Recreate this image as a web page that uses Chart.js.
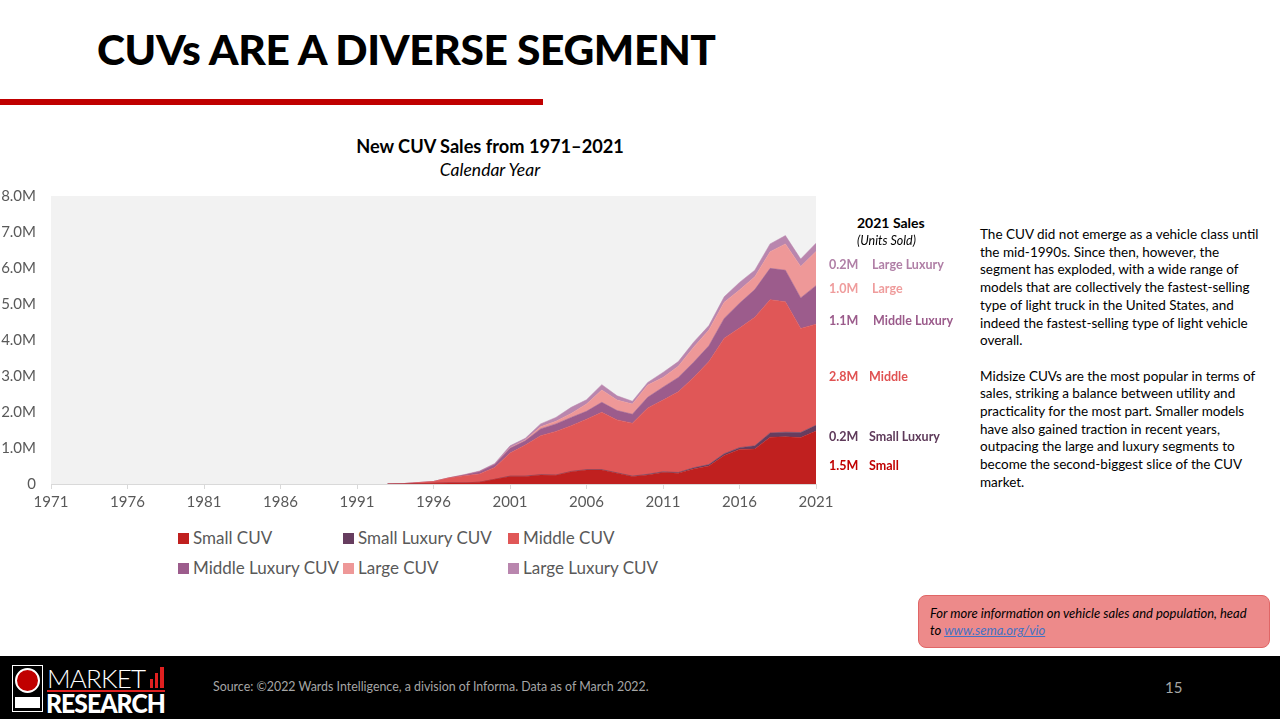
<!DOCTYPE html>
<html>
<head>
<meta charset="utf-8">
<script src="https://cdn.jsdelivr.net/npm/chart.js@4"></script>
<style>
  body { margin: 0; width: 1280px; height: 719px; position: relative; overflow: hidden; background: #fff; font-family: Lato, "Open Sans", sans-serif; }
  .abs { position: absolute; white-space: nowrap; }
  #title { left: 97px; top: 23px; font-size: 42.5px; font-weight: 900; color: #000; letter-spacing: -0.4px; }
  #redline { left: 0; top: 99px; width: 543px; height: 6px; background: #c00000; }
  #ctitle { left: 290px; width: 400px; top: 135px; text-align: center; font-size: 18.2px; font-weight: bold; color: #000; }
  #csub { left: 290px; width: 400px; top: 159px; text-align: center; font-size: 17.5px; font-style: italic; color: #000; }
  #chartWrap { position: absolute; left: 0; top: 172px; }
  .leg { position: absolute; font-size: 17px; color: #595959; white-space: nowrap; }
  .leg span.box { position: absolute; left: 0; top: 6px; width: 11px; height: 11px; }
  .leg span.txt { position: absolute; left: 15px; top: 0; }
  #salesHead { left: 857px; top: 214px; font-size: 14px; font-weight: bold; color: #000; }
  #salesSub { left: 857px; top: 233px; font-size: 12.5px; font-style: italic; color: #000; }
  .sl { position: absolute; font-size: 12.5px; font-weight: bold; white-space: nowrap; }
  #para { left: 980px; top: 226px; font-size: 13.5px; line-height: 17.7px; color: #000; }
  #infobox { left: 918px; top: 595px; width: 352px; height: 53px; background: #ed8a8a; border: 1px solid #e06666; border-radius: 8px; box-sizing: border-box; }
  #infotext { left: 930px; top: 605px; font-size: 13px; line-height: 17px; font-style: italic; color: #000; }
  #infotext a { color: #4472c4; text-decoration: underline; }
  #footer { left: 0; top: 656px; width: 1280px; height: 63px; background: #000; }
  #source { left: 213px; top: 679px; font-size: 12.4px; color: #a6a6a6; }
  #page { left: 1165px; top: 678px; font-size: 15px; color: #a6a6a6; }
</style>
</head>
<body>
<div id="title" class="abs">CUVs ARE A DIVERSE SEGMENT</div>
<div id="redline" class="abs"></div>
<div id="ctitle" class="abs">New CUV Sales from 1971–2021</div>
<div id="csub" class="abs">Calendar Year</div>

<div id="chartWrap"><canvas id="cuvChart" width="840" height="348"></canvas></div>
<div id="legend"></div>

<div id="salesHead" class="abs">2021 Sales</div>
<div id="salesSub" class="abs">(Units Sold)</div>
<div id="sales"></div>

<div id="para" class="abs">The CUV did not emerge as a vehicle class until<br>the mid-1990s. Since then, however, the<br>segment has exploded, with a wide range of<br>models that are collectively the fastest-selling<br>type of light truck in the United States, and<br>indeed the fastest-selling type of light vehicle<br>overall.<br><br>Midsize CUVs are the most popular in terms of<br>sales, striking a balance between utility and<br>practicality for the most part. Smaller models<br>have also gained traction in recent years,<br>outpacing the large and luxury segments to<br>become the second-biggest slice of the CUV<br>market.</div>

<div id="infobox" class="abs"></div>
<div id="infotext" class="abs">For more information on vehicle sales and population, head<br>to <a href="#">www.sema.org/vio</a></div>

<div id="footer" class="abs"></div>
<div class="abs" style="left:12px;top:665px;width:31px;height:47px;border:1px solid #fff;box-sizing:border-box;background:#000;"></div>
<div class="abs" style="left:15px;top:668px;width:25px;height:25px;border-radius:50%;background:#c00000;border:2px solid #fff;box-sizing:border-box;"></div>
<div class="abs" style="left:15px;top:697px;width:25px;height:11px;background:#fff;"></div>
<div class="abs" style="left:47px;top:662px;font-size:26px;color:#fff;font-weight:300;letter-spacing:-0.8px;">MARKET</div>
<div class="abs" style="left:150px;top:679px;width:3px;height:9px;background:#e02020;"></div>
<div class="abs" style="left:155px;top:673px;width:3px;height:15px;background:#e02020;"></div>
<div class="abs" style="left:160px;top:667px;width:4px;height:21px;background:#e02020;"></div>
<div class="abs" style="left:47px;top:690px;width:118px;height:2px;background:#e02020;"></div>
<div class="abs" style="left:46px;top:687px;font-size:26px;color:#fff;font-weight:900;letter-spacing:-1px;transform:scaleX(0.95);transform-origin:0 0;">RESEARCH</div>
<div id="source" class="abs">Source: ©2022 Wards Intelligence, a division of Informa. Data as of March 2022.</div>
<div id="page" class="abs">15</div>

<script>
// sales in millions of units, calendar years 1993-2021 (nothing before)
const years = [1993, 1994, 1995, 1996, 1997, 1998, 1999, 2000, 2001, 2002, 2003, 2004, 2005, 2006, 2007,
  2008, 2009, 2010, 2011, 2012, 2013, 2014, 2015, 2016, 2017, 2018, 2019, 2020, 2021];

const smallCuv = [0, 0, 0.01, 0.02, 0.03, 0.03, 0.05, 0.13, 0.21, 0.21, 0.25, 0.24, 0.34, 0.39, 0.39,
  0.30, 0.21, 0.25, 0.32, 0.30, 0.42, 0.50, 0.79, 0.96, 0.97, 1.30, 1.31, 1.29, 1.47];
const smallLuxCuv = [0, 0, 0, 0, 0, 0, 0, 0, 0.01, 0.01, 0.01, 0.01, 0.01, 0.01, 0.01,
  0.01, 0.01, 0.02, 0.02, 0.02, 0.03, 0.04, 0.05, 0.05, 0.09, 0.12, 0.13, 0.14, 0.16];
const middleCuv = [0, 0.01, 0.03, 0.05, 0.14, 0.20, 0.23, 0.33, 0.64, 0.86, 1.08, 1.21, 1.27, 1.40, 1.59,
  1.47, 1.47, 1.84, 1.99, 2.24, 2.51, 2.86, 3.21, 3.32, 3.57, 3.70, 3.62, 2.89, 2.81];
const middleLuxCuv = [0, 0, 0, 0, 0, 0.02, 0.06, 0.08, 0.13, 0.12, 0.19, 0.21, 0.23, 0.22, 0.28,
  0.26, 0.25, 0.30, 0.36, 0.40, 0.42, 0.44, 0.55, 0.69, 0.77, 0.87, 0.88, 0.85, 1.07];
const largeCuv = [0, 0, 0, 0, 0, 0, 0, 0, 0.02, 0.02, 0.06, 0.07, 0.11, 0.20, 0.34,
  0.29, 0.28, 0.34, 0.27, 0.31, 0.42, 0.44, 0.45, 0.37, 0.36, 0.46, 0.73, 0.87, 0.95];
const largeLuxCuv = [0, 0, 0, 0, 0, 0.01, 0.02, 0.03, 0.05, 0.05, 0.08, 0.11, 0.17, 0.12, 0.15,
  0.12, 0.08, 0.07, 0.14, 0.13, 0.14, 0.12, 0.15, 0.21, 0.18, 0.22, 0.23, 0.21, 0.23];

const seriesNames = ['Small CUV', 'Small Luxury CUV', 'Middle CUV', 'Middle Luxury CUV', 'Large CUV', 'Large Luxury CUV'];
const seriesColors = ['#c0201f', '#663d5f', '#e05757', '#9c5c8c', '#ee9898', '#b986ae'];
const seriesValues = [smallCuv, smallLuxCuv, middleCuv, middleLuxCuv, largeCuv, largeLuxCuv];

const yTicks = ['0', '1.0M', '2.0M', '3.0M', '4.0M', '5.0M', '6.0M', '7.0M', '8.0M'];

// right-hand 2021 labels, top to bottom
const salesValues = ['0.2M', '1.0M', '1.1M', '2.8M', '0.2M', '1.5M'];
const salesNames = ['Large Luxury', 'Large', 'Middle Luxury', 'Middle', 'Small Luxury', 'Small'];
const salesColors = ['#b07fa6', '#ef9c9c', '#9b5b8b', '#e05252', '#5e3a5a', '#c00000'];
const salesTops = [257, 281, 313, 369, 429, 458];
const salesGap = [43, 43, 44, 40, 40, 40];

const plotBg = {
  id: 'plotBg',
  beforeDraw(chart) {
    const { ctx, chartArea } = chart;
    ctx.save();
    ctx.fillStyle = '#f2f2f2';
    ctx.fillRect(chartArea.left, chartArea.top, chartArea.right - chartArea.left, chartArea.bottom - chartArea.top);
    ctx.restore();
  }
};

const datasets = seriesValues.map((vals, i) => ({
  label: seriesNames[i],
  data: vals.map((v, j) => ({ x: years[j], y: v })),
  backgroundColor: seriesColors[i],
  borderColor: seriesColors[i],
  borderWidth: 0.5,
  pointRadius: 0,
  tension: 0,
  fill: i === 0 ? 'origin' : '-1'
}));

const ctx = document.getElementById('cuvChart').getContext('2d');
const chart = new Chart(ctx, {
  type: 'line',
  data: { datasets: datasets },
  plugins: [plotBg],
  options: {
    responsive: false,
    animation: false,
    layout: { padding: { top: 8, right: 24, left: 0, bottom: 0 } },
    plugins: { legend: { display: false }, tooltip: { enabled: false } },
    scales: {
      x: {
        type: 'linear',
        min: 1971,
        max: 2021,
        ticks: {
          stepSize: 5,
          color: '#595959',
          font: { family: 'Lato', size: 15 },
          padding: 4,
          callback: v => String(v)
        },
        grid: { display: true, drawOnChartArea: false, drawTicks: true, tickLength: 5, color: '#d9d9d9' },
        border: { display: true, color: '#d9d9d9', width: 1 },
        afterFit(scale) { scale.height = 36; }
      },
      y: {
        stacked: true,
        min: 0,
        max: 8,
        ticks: {
          stepSize: 1,
          color: '#595959',
          font: { family: 'Lato', size: 15 },
          padding: 15,
          callback: (v, i) => yTicks[i]
        },
        grid: { display: false, drawTicks: false },
        border: { display: false },
        afterFit(scale) { scale.width = 51; }
      }
    }
  }
});

// legend in a 3-column grid, built from the chart's datasets
const legendEl = document.getElementById('legend');
const legCols = [178, 343, 508];
const legRows = [527, 557];
chart.data.datasets.forEach((ds, i) => {
  const item = document.createElement('div');
  item.className = 'leg';
  item.style.left = legCols[i % 3] + 'px';
  item.style.top = legRows[Math.floor(i / 3)] + 'px';
  item.innerHTML = '<span class="box" style="background:' + ds.backgroundColor + '"></span><span class="txt">' + ds.label + '</span>';
  legendEl.appendChild(item);
});

const salesEl = document.getElementById('sales');
salesValues.forEach((v, i) => {
  const a = document.createElement('div');
  a.className = 'sl';
  a.style.left = '829px';
  a.style.top = salesTops[i] + 'px';
  a.style.color = salesColors[i];
  a.textContent = v;
  salesEl.appendChild(a);
  const b = document.createElement('div');
  b.className = 'sl';
  b.style.left = (829 + salesGap[i]) + 'px';
  b.style.top = salesTops[i] + 'px';
  b.style.color = salesColors[i];
  b.textContent = salesNames[i];
  salesEl.appendChild(b);
});
</script>
</body>
</html>
